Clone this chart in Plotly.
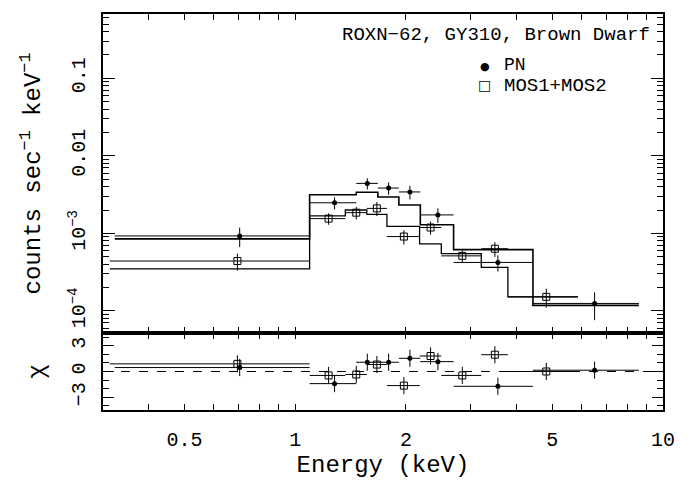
import numpy as np
import plotly.graph_objects as go

# ---------------- data ----------------
# PN spectrum
pn_e = [0.706, 1.279, 1.570, 1.794, 2.050, 2.443, 3.556, 6.516]
pn_lo = [0.323, 1.094, 1.465, 1.677, 1.913, 2.188, 2.695, 4.429]
pn_hi = [1.094, 1.465, 1.677, 1.913, 2.188, 2.695, 4.429, 8.60]
pn_flux = [9.27e-4, 2.48e-3, 4.41e-3, 3.84e-3, 3.42e-3, 1.73e-3, 4.22e-4, 1.25e-4]
pn_err = [2.6e-4, 4.4e-4, 7.3e-4, 7.0e-4, 6.8e-4, 3.7e-4, 1.0e-4, 4.9e-5]
pn_model = [8.49e-4, 3.15e-3, 3.39e-3, 2.95e-3, 2.32e-3, 1.29e-3, 6.17e-4, 1.18e-4]
pn_chi = [0.46, -1.42, 1.08, 1.08, 1.54, 1.15, -1.73, 0.15]

# MOS1+MOS2 spectrum
mos_e = [0.696, 1.232, 1.465, 1.667, 1.974, 2.333, 2.846, 3.490, 4.815]
mos_lo = [0.313, 1.094, 1.368, 1.565, 1.775, 2.178, 2.495, 3.205, 3.786]
mos_hi = [1.094, 1.368, 1.565, 1.775, 2.178, 2.495, 3.205, 3.786, 5.869]
mos_flux = [4.40e-4, 1.55e-3, 1.85e-3, 2.10e-3, 9.10e-4, 1.19e-3, 5.13e-4, 6.34e-4, 1.52e-4]
mos_err = [1.08e-4, 2.6e-4, 3.4e-4, 4.3e-4, 1.9e-4, 2.3e-4, 9.0e-5, 1.37e-4, 4.2e-5]
mos_model = [3.48e-4, 1.68e-3, 2.00e-3, 1.76e-3, 1.23e-3, 7.34e-4, 5.48e-4, 3.64e-4, 1.52e-4]
mos_chi = [0.89, -0.46, -0.35, 0.81, -1.65, 1.81, -0.46, 1.96, 0.0]

# axis ticks
x_range = [0.3, 10.0]
x_label_vals = [0.5, 1, 2, 5, 10]
x_label_text = ["0.5", "1", "2", "5", "10"]
x_minor = [0.3, 0.4, 0.6, 0.7, 0.8, 0.9, 3, 4, 6, 7, 8, 9]
x_all = [0.3, 0.4, 0.5, 0.6, 0.7, 0.8, 0.9, 1, 2, 3, 4, 5, 6, 7, 8, 9, 10]
x_decades = [1, 10]
y_range = [5.2e-5, 0.673]
y_major = [1e-4, 1e-3, 1e-2, 1e-1]
y_major_text = ["10<sup>\u22124</sup>", "10<sup>\u22123</sup>", "0.01", "0.1"]
y_minor = [m * d for d in [1e-5, 1e-4, 1e-3, 1e-2, 1e-1] for m in range(2, 10)]
chi_range = [-4.5, 4.5]
chi_major = [-3, 0, 3]
chi_text = ["\u22123", "0", "3"]

FONT = "Liberation Mono"
BLACK = "black"


def xerr(e, lo, hi):
    e = np.array(e); lo = np.array(lo); hi = np.array(hi)
    return dict(type="data", symmetric=False, array=hi - e, arrayminus=e - lo,
                width=0, thickness=1, color=BLACK)


def yerr(err):
    return dict(type="data", array=list(err), width=0, thickness=1, color=BLACK)


def step(lo, hi, vals):
    return list(lo) + [hi[-1]], list(vals) + [vals[-1]]


fig = go.Figure()

# ---- top panel: spectra ----
for lo, hi, model, w in [(pn_lo, pn_hi, pn_model, 1.6), (mos_lo, mos_hi, mos_model, 1.3)]:
    sx, sy = step(lo, hi, model)
    fig.add_trace(go.Scatter(x=sx, y=sy, mode="lines", line=dict(shape="hv", color=BLACK, width=w),
                             xaxis="x", yaxis="y", showlegend=False, hoverinfo="skip"))

fig.add_trace(go.Scatter(x=pn_e, y=pn_flux, mode="markers",
                         marker=dict(symbol="circle", size=5, color=BLACK),
                         error_x=xerr(pn_e, pn_lo, pn_hi), error_y=yerr(pn_err),
                         xaxis="x", yaxis="y", showlegend=False))
fig.add_trace(go.Scatter(x=mos_e, y=mos_flux, mode="markers",
                         marker=dict(symbol="square-open", size=7, color=BLACK, line=dict(width=1)),
                         error_x=xerr(mos_e, mos_lo, mos_hi), error_y=yerr(mos_err),
                         xaxis="x", yaxis="y", showlegend=False))

# ---- bottom panel: residuals ----
fig.add_trace(go.Scatter(x=pn_e, y=pn_chi, mode="markers",
                         marker=dict(symbol="circle", size=5, color=BLACK),
                         error_x=xerr(pn_e, pn_lo, pn_hi), error_y=yerr([1] * len(pn_chi)),
                         xaxis="x2", yaxis="y2", showlegend=False))
fig.add_trace(go.Scatter(x=mos_e, y=mos_chi, mode="markers",
                         marker=dict(symbol="square-open", size=7, color=BLACK, line=dict(width=1)),
                         error_x=xerr(mos_e, mos_lo, mos_hi), error_y=yerr([1] * len(mos_chi)),
                         xaxis="x2", yaxis="y2", showlegend=False))

fig.add_shape(type="line", xref="x2 domain", yref="y2", x0=0, x1=1, y0=0, y1=0,
              line=dict(color=BLACK, width=1, dash="dash"))

lx = [np.log10(v) for v in x_range]
split = 0.1945

common_x = dict(type="log", range=lx, showgrid=False, zeroline=False, ticks="inside",
                mirror="ticks", tickcolor=BLACK, tickwidth=1, showline=True,
                linecolor=BLACK, linewidth=1.5, tickmode="array", ticklen=6)
long_x = dict(type="log", range=lx, showgrid=False, zeroline=False, ticks="inside",
              mirror="ticks", tickcolor=BLACK, tickwidth=1, showline=False,
              tickmode="array", tickvals=x_decades, ticklen=11, showticklabels=False)

fig.update_layout(
    width=691, height=485,
    margin=dict(l=103, r=28, t=13, b=69),
    paper_bgcolor="white", plot_bgcolor="white",
    font=dict(family=FONT, color=BLACK, size=20),
    xaxis=dict(common_x, anchor="y", domain=[0, 1], tickvals=x_all, showticklabels=False),
    xaxis2=dict(common_x, anchor="y2", domain=[0, 1], showticklabels=True,
                tickvals=x_label_vals, ticktext=x_label_text,
                minor=dict(tickmode="array", tickvals=x_minor, ticklen=6, ticks="inside",
                           tickcolor=BLACK),
                tickfont=dict(size=20), ticklabelstandoff=10,
                title=dict(text="Energy (keV)", font=dict(size=24), standoff=4)),
    xaxis3=dict(long_x, overlaying="x", anchor="y"),
    xaxis4=dict(long_x, overlaying="x2", anchor="y2"),
    yaxis=dict(type="log", range=[np.log10(v) for v in y_range], domain=[split, 1], anchor="x",
               showgrid=False, zeroline=False, ticks="inside", mirror="ticks",
               showline=True, linecolor=BLACK, linewidth=1.5, tickcolor=BLACK,
               tickmode="array", tickvals=y_major, ticktext=y_major_text, ticklen=12,
               minor=dict(tickmode="array", tickvals=y_minor, ticklen=6, ticks="inside",
                          tickcolor=BLACK),
               tickangle=-90, tickfont=dict(size=20), ticklabelstandoff=8,
               title=dict(text="counts sec<sup>\u22121</sup> keV<sup>\u22121</sup>",
                          font=dict(size=24), standoff=17)),
    yaxis2=dict(range=chi_range, domain=[0, split], anchor="x2",
                showgrid=False, zeroline=False, ticks="inside", mirror="ticks",
                showline=True, linecolor=BLACK, linewidth=1.5, tickcolor=BLACK,
                tickmode="array", tickvals=chi_major, ticktext=chi_text, ticklen=11,
                minor=dict(dtick=1, tick0=0, ticklen=6, ticks="inside", tickcolor=BLACK),
                tickangle=-90, tickfont=dict(size=20), ticklabelstandoff=8,
                title=dict(text="\u03c7", font=dict(size=24), standoff=17)),
)

# annotations: label and key
fig.add_annotation(text="ROXN\u221262, GY310, Brown Dwarf", xref="paper", yref="paper",
                   x=0.980, y=0.948, xanchor="right", yanchor="middle", showarrow=False,
                   font=dict(size=19))
fig.add_annotation(text="\u25cf", xref="paper", yref="paper", x=0.682, y=0.868,
                   xanchor="center", yanchor="middle", showarrow=False,
                   font=dict(size=11, family="DejaVu Sans"))
fig.add_annotation(text="PN", xref="paper", yref="paper", x=0.7125, y=0.870,
                   xanchor="left", yanchor="middle", showarrow=False, font=dict(size=18))
fig.add_annotation(text="\u25a1", xref="paper", yref="paper", x=0.682, y=0.820,
                   xanchor="center", yanchor="middle", showarrow=False,
                   font=dict(size=14, family="DejaVu Sans"))
fig.add_annotation(text="MOS1+MOS2", xref="paper", yref="paper", x=0.7125, y=0.817,
                   xanchor="left", yanchor="middle", showarrow=False, font=dict(size=19))

fig.write_html("out.html")
